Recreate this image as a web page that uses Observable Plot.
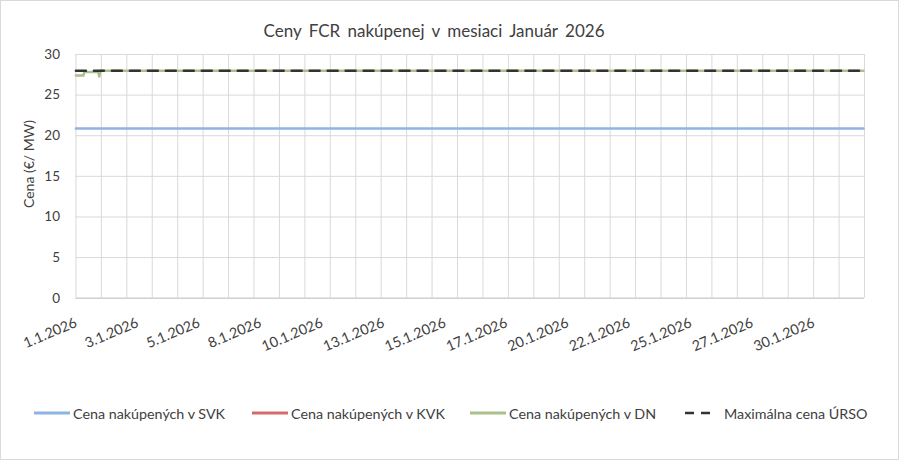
<!DOCTYPE html>
<html>
<head>
<meta charset="utf-8">
<script src="https://cdn.jsdelivr.net/npm/d3@7"></script>
<script src="https://cdn.jsdelivr.net/npm/@observablehq/plot@0.6"></script>
<style>
  html, body { margin: 0; padding: 0; background: #fff; }
  #chart { position: relative; width: 899px; height: 460px; box-sizing: border-box; border: 1px solid #d9d9d9; font-family: Lato, "Open Sans", sans-serif; color: #404040; overflow: hidden; }
  #title { position: absolute; left: 0; width: 866px; top: 19px; text-align: center; font-size: 17px; word-spacing: 3px; }
  #ylabel { position: absolute; left: 27px; top: 163px; transform: translate(-50%, -50%) rotate(-90deg); white-space: nowrap; font-size: 14px; }
  #plot { position: absolute; left: -1px; top: 39px; }
  .lg { position: absolute; top: 402px; height: 20px; display: flex; align-items: center; font-size: 14.3px; white-space: nowrap; }
  .lg svg { margin-right: 3px; }
</style>
</head>
<body>
<div id="chart">
  <div id="title"></div>
  <div id="ylabel"></div>
  <div id="plot"></div>
  <div id="legend"></div>
</div>
<script>
// ---- data ----
const chartTitle = "Ceny FCR nakúpenej v mesiaci Január 2026";
const yTitle = "Cena (€/ MW)";
const seriesNames = ["Cena nakúpených v SVK", "Cena nakúpených v KVK", "Cena nakúpených v DN", "Maximálna cena ÚRSO"];
const seriesColors = ["#8db4e2", "#d9696a", "#a9c08b", "#333333"];

const svkTimes = ["2026-01-01T00:00Z", "2026-01-31T23:00Z"];
const svkValues = [20.9, 20.9];

const kvkTimes = [];
const kvkValues = [];

const dnTimes = ["2026-01-01T00:00Z", "2026-01-01T07:00Z", "2026-01-01T08:00Z", "2026-01-01T21:00Z", "2026-01-01T22:00Z", "2026-01-01T23:00Z", "2026-01-31T23:00Z"];
const dnValues = [27.4, 27.4, 27.85, 27.85, 27.3, 28.0, 28.0];

const ursoTimes = ["2026-01-01T00:00Z", "2026-01-31T23:00Z"];
const ursoValues = [28.0, 28.0];

const xTickLabels = ["1.1.2026", "3.1.2026", "5.1.2026", "8.1.2026", "10.1.2026", "13.1.2026", "15.1.2026", "17.1.2026", "20.1.2026", "22.1.2026", "25.1.2026", "27.1.2026", "30.1.2026"];
const xTickHourStep = 58;
const yTicks = [0, 5, 10, 15, 20, 25, 30];

// ---- build ----
const toRows = (ts, vs) => ts.map((t, i) => ({t: new Date(t), v: vs[i]}));
const svk = toRows(svkTimes, svkValues);
const kvk = toRows(kvkTimes, kvkValues);
const dn = toRows(dnTimes, dnValues);
const urso = toRows(ursoTimes, ursoValues);

const start = new Date("2026-01-01T00:00Z");
const end = new Date("2026-02-01T00:00Z");
const dayLines = d3.utcDay.range(start, d3.utcDay.offset(end, 1));
const tickDates = xTickLabels.map((_, i) => d3.utcHour.offset(start, i * xTickHourStep));

document.getElementById("title").textContent = chartTitle;
document.getElementById("ylabel").textContent = yTitle;

const plot = Plot.plot({
  width: 899,
  height: 340,
  marginLeft: 75.5,
  marginRight: 34,
  marginTop: 14,
  marginBottom: 82,
  style: {fontFamily: "Lato, 'Open Sans', sans-serif", color: "#404040", background: "transparent", overflow: "visible"},
  x: {type: "utc", domain: [start, end], axis: null},
  y: {domain: [0, 30], axis: null},
  marks: [
    Plot.ruleY(yTicks, {stroke: "#d9d9d9", strokeWidth: 1}),
    Plot.ruleX(dayLines, {stroke: "#d9d9d9", strokeWidth: 1}),
    Plot.ruleY([0], {stroke: "#c8c8c8", strokeWidth: 1}),
    Plot.axisY({ticks: yTicks, tickSize: 0, tickPadding: 16, label: null, fontSize: 13.5, fill: "#404040"}),
    Plot.text(tickDates, {x: d => d, frameAnchor: "bottom", text: (d, i) => xTickLabels[i], rotate: -23, textAnchor: "end", dy: 28, dx: 2, fontSize: 14.3, fill: "#404040"}),
    Plot.line(svk, {x: "t", y: "v", stroke: seriesColors[0], strokeWidth: 2.5}),
    Plot.line(kvk, {x: "t", y: "v", stroke: seriesColors[1], strokeWidth: 2.5}),
    Plot.line(dn, {x: "t", y: "v", stroke: seriesColors[2], strokeWidth: 2.5}),
    Plot.line(urso, {x: "t", y: "v", stroke: seriesColors[3], strokeWidth: 2.5, strokeDasharray: "10,8"})
  ]
});
document.getElementById("plot").appendChild(plot);

// legend
const legendLefts = [33, 251, 469, 684];
const legend = document.getElementById("legend");
seriesNames.forEach((name, i) => {
  const item = document.createElement("div");
  item.className = "lg";
  item.style.left = legendLefts[i] + "px";
  const dashed = i === 3;
  item.innerHTML = `<svg width="36" height="6"><line x1="0" x2="${dashed ? 28 : 36}" y1="3" y2="3" stroke="${seriesColors[i]}" stroke-width="${dashed ? 2.5 : 3}" ${dashed ? 'stroke-dasharray="9,7"' : ""}/></svg><span>${name}</span>`;
  legend.appendChild(item);
});
</script>
</body>
</html>
